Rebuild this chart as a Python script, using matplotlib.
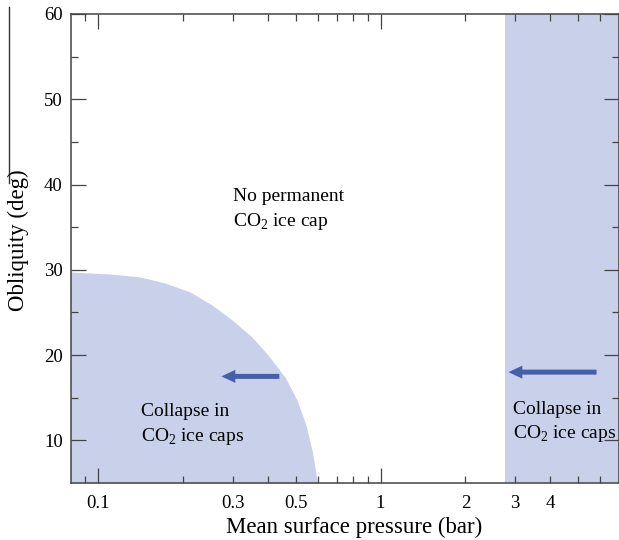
import numpy as np
import matplotlib as mpl
mpl.use('Agg')
import matplotlib.pyplot as plt
from matplotlib.lines import Line2D
from matplotlib.ticker import FixedLocator, FixedFormatter

plt.rcParams['font.family'] = ['Liberation Serif', 'DejaVu Serif']
plt.rcParams['mathtext.fontset'] = 'custom'
plt.rcParams['mathtext.rm'] = 'Liberation Serif'

# Boundary of the low-pressure collapse region (pressure in bar, obliquity in deg)
collapse_p = [0.0796, 0.110, 0.1405, 0.1723, 0.2113, 0.2528, 0.2976, 0.3503, 0.3993,
              0.4586, 0.5058, 0.5444, 0.5716, 0.5882, 0.597]
collapse_obl = [29.74, 29.51, 29.16, 28.45, 27.40, 25.87, 24.12, 22.12, 20.01,
                17.43, 14.73, 11.80, 8.87, 6.53, 5.0]

# High-pressure collapse band
band_p = [2.77, 10.0]

# Arrows: (tail pressure, tip pressure, obliquity)
arrow_left = [0.438, 0.273, 17.5]
arrow_right = [5.83, 2.84, 18.0]

major_x = [0.1, 1]
minor_x = [0.09, 0.2, 0.3, 0.4, 0.5, 0.6, 0.7, 0.8, 0.9, 2, 3, 4, 5, 6]
minor_x_labels = ['', '', '0.3', '', '0.5', '', '', '', '', '2', '3', '4', '', '']
major_y = [10, 20, 30, 40, 50, 60]
minor_y = [15, 25, 35, 45, 55]

fill_color = '#c9d1ea'
arrow_color = '#465faa'
spine_color = '#444444'

fig = plt.figure(figsize=(6.19, 5.40), dpi=100)
ax = fig.add_axes([0.1147, 0.1056, 0.8853, 0.8685])

ax.set_xscale('log')
ax.set_xlim(0.08, 7)
ax.set_ylim(5, 60)

# Shaded regions
ax.fill_betweenx(collapse_obl, 0.01, collapse_p, color=fill_color, lw=0, zorder=1)
ax.axvspan(band_p[0], band_p[1], color=fill_color, lw=0, zorder=1)

# Arrows
for tail, tip, y in [arrow_left, arrow_right]:
  ax.annotate('', xy=(tip, y), xytext=(tail, y),
              arrowprops=dict(arrowstyle='simple,head_length=0.5,head_width=0.47,tail_width=0.18',
                              mutation_scale=20, color=arrow_color, lw=0,
                              shrinkA=0, shrinkB=0), zorder=3)

# Annotations
ax.text(0.30, 37.0, 'No permanent\nCO$_2$ ice cap', fontsize=14, ha='left', va='center',
        linespacing=1.35)
ax.text(0.142, 11.8, 'Collapse in\nCO$_2$ ice caps', fontsize=14, ha='left', va='center',
        linespacing=1.35)
ax.text(2.94, 12.1, 'Collapse in\nCO$_2$ ice caps', fontsize=14, ha='left', va='center',
        linespacing=1.35)

# Ticks
ax.xaxis.set_major_locator(FixedLocator(major_x))
ax.xaxis.set_major_formatter(FixedFormatter(['0.1', '1']))
ax.xaxis.set_minor_locator(FixedLocator(minor_x))
ax.xaxis.set_minor_formatter(FixedFormatter(minor_x_labels))
ax.yaxis.set_major_locator(FixedLocator(major_y))
ax.yaxis.set_minor_locator(FixedLocator(minor_y))

ax.tick_params(which='both', direction='in', top=True, right=True, color=spine_color,
               labelsize=13.5, width=0.9)
ax.tick_params(which='major', length=10.8)
ax.tick_params(which='minor', length=5)
ax.tick_params(axis='x', which='both', pad=9)
ax.tick_params(axis='y', which='both', pad=6)

for s in ax.spines.values():
  s.set_color(spine_color)
  s.set_linewidth(1.1)
  s.set_zorder(4)

# Axis labels
fig.text(354 / 619, 1 - 527 / 540, 'Mean surface pressure (bar)', fontsize=16.5,
         ha='center', va='center')
fig.text(18 / 619, 1 - 240 / 540, 'Obliquity (deg)', fontsize=16.5, rotation=90,
         ha='center', va='center')

# Thin rule at the left edge
fig.add_artist(Line2D([9 / 619, 9 / 619], [1 - 7 / 540, 1 - 183 / 540], color='#333333', lw=1.0))

fig.savefig('out.png', dpi=100)
